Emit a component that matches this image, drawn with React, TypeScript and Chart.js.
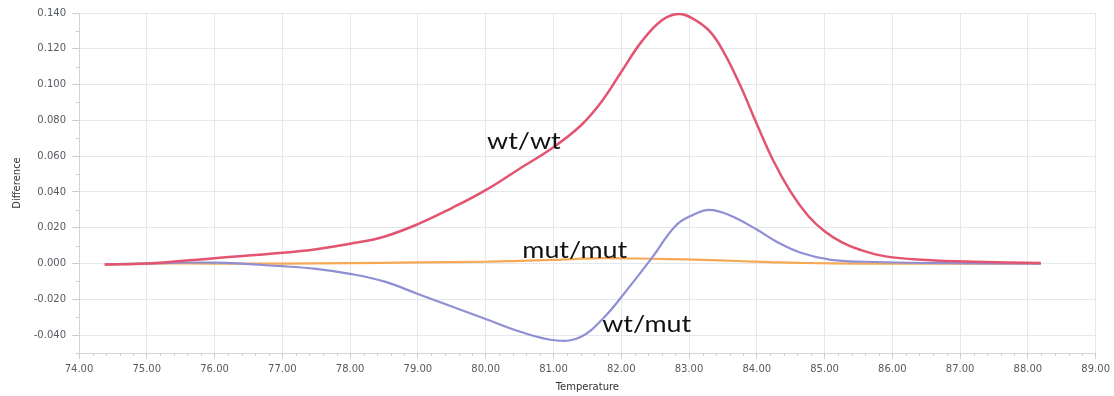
import React, { useEffect, useRef } from "react";
import { Chart, registerables } from "chart.js";

Chart.register(...registerables);

// wt/wt curve (Temperature, Difference)
const wtwtTemps = [74.38, 75.0, 76.0, 77.0, 77.5, 78.0, 78.5, 79.0, 79.5, 80.0, 80.5, 81.0, 81.4, 81.7, 82.0, 82.3, 82.6, 82.85, 83.05, 83.3, 83.5, 83.75, 84.0, 84.25, 84.5, 84.75, 85.0, 85.25, 85.5, 85.9, 86.5, 87.2, 88.19];
const wtwtValues = [-0.0005, 0.0, 0.003, 0.006, 0.008, 0.011, 0.015, 0.022, 0.031, 0.041, 0.053, 0.065, 0.077, 0.09, 0.107, 0.124, 0.136, 0.1395, 0.137, 0.13, 0.119, 0.1, 0.078, 0.057, 0.04, 0.027, 0.018, 0.012, 0.008, 0.004, 0.002, 0.001, 0.0003];

// wt/mut curve
const wtmutTemps = [74.38, 75.0, 76.0, 77.0, 77.5, 78.0, 78.5, 79.0, 79.5, 80.0, 80.5, 81.05, 81.4, 81.75, 82.1, 82.45, 82.8, 83.05, 83.3, 83.6, 84.0, 84.3, 84.65, 85.1, 85.6, 86.5, 88.19];
const wtmutValues = [-0.0005, 0.0, 0.0005, -0.0015, -0.003, -0.0058, -0.01, -0.017, -0.024, -0.031, -0.038, -0.043, -0.041, -0.03, -0.014, 0.003, 0.021, 0.027, 0.03, 0.027, 0.019, 0.012, 0.006, 0.002, 0.001, 0.0003, 0.0];

// mut/mut curve
const mutmutTemps = [74.38, 75.0, 76.0, 77.0, 78.0, 79.0, 80.0, 80.5, 81.0, 81.7, 82.2, 82.7, 83.2, 83.7, 84.2, 84.7, 85.5, 86.5, 87.5, 88.19];
const mutmutValues = [-0.0005, 0.0, 0.0, 0.0, 0.0002, 0.0006, 0.001, 0.0015, 0.002, 0.003, 0.0028, 0.0025, 0.002, 0.0014, 0.0008, 0.0003, 0.0, 0.0, 0.0, 0.0];

// Axis ticks
const yTickValues = [-0.04, -0.02, 0.0, 0.02, 0.04, 0.06, 0.08, 0.1, 0.12, 0.14];
const xMin = 74;
const xMax = 89;
const yMin = -0.05;
const yMax = 0.14;

// In-plot curve labels (anchored in data coordinates)
const curveLabelTexts = ["wt/wt", "mut/mut", "wt/mut"];
const curveLabelTemps = [80.02, 80.54, 81.72];
const curveLabelValues = [0.0638, 0.0031, -0.0385];

const toPoints = (xs: number[], ys: number[]) => xs.map((x, i) => ({ x, y: ys[i] }));

export default function App() {
  const ref = useRef<HTMLCanvasElement | null>(null);

  useEffect(() => {
    document.body.style.margin = "0";
    const canvas = ref.current;
    if (!canvas) return;

    const minorTicks = {
      id: "minorTicks",
      afterDraw(chart: any) {
        const ctx = chart.ctx;
        const xs = chart.scales.x;
        const ys = chart.scales.y;
        const area = chart.chartArea;
        ctx.save();
        ctx.strokeStyle = "#c9ced4";
        ctx.lineWidth = 1;
        ctx.beginPath();
        for (let i = 0; i <= (xMax - xMin) * 5; i++) {
          if (i % 5 === 0) continue;
          const px = Math.round(xs.getPixelForValue(xMin + i * 0.2)) + 0.5;
          ctx.moveTo(px, area.bottom);
          ctx.lineTo(px, area.bottom + 3);
        }
        for (let i = 0; i <= 19; i++) {
          const v = yMin + i * 0.01;
          if (Math.abs(Math.round(v * 100)) % 2 === 0) continue;
          const py = Math.round(ys.getPixelForValue(v)) + 0.5;
          ctx.moveTo(area.left - 3, py);
          ctx.lineTo(area.left, py);
        }
        ctx.stroke();
        ctx.restore();
      },
    };

    const curveLabels = {
      id: "curveLabels",
      afterDatasetsDraw(chart: any) {
        const ctx = chart.ctx;
        const xs = chart.scales.x;
        const ys = chart.scales.y;
        ctx.save();
        ctx.font = "24px Lato";
        ctx.fillStyle = "#111111";
        ctx.textAlign = "left";
        ctx.textBaseline = "alphabetic";
        curveLabelTexts.forEach((t, i) => {
          const px = xs.getPixelForValue(curveLabelTemps[i]);
          const py = ys.getPixelForValue(curveLabelValues[i]);
          ctx.save();
          ctx.translate(px, py);
          ctx.scale(1.12, 1);
          ctx.fillText(t, 0, 0);
          ctx.restore();
        });
        ctx.restore();
      },
    };

    const tickFont = { family: "DejaVu Sans", size: 10 };

    const chart = new Chart(canvas, {
      type: "line",
      data: {
        datasets: [
          {
            label: "wt/wt",
            data: toPoints(wtwtTemps, wtwtValues),
            borderColor: "rgb(226, 84, 112)",
            borderWidth: 2.5,
            pointRadius: 0,
            tension: 0.4,
            fill: false,
          },
          {
            label: "wt/mut",
            data: toPoints(wtmutTemps, wtmutValues),
            borderColor: "rgb(143, 143, 212)",
            borderWidth: 2.2,
            pointRadius: 0,
            tension: 0.4,
            fill: false,
          },
          {
            label: "mut/mut",
            data: toPoints(mutmutTemps, mutmutValues),
            borderColor: "rgb(246, 168, 84)",
            borderWidth: 2.2,
            pointRadius: 0,
            tension: 0.4,
            fill: false,
          },
        ],
      },
      options: {
        animation: false,
        responsive: false,
        maintainAspectRatio: false,
        events: [],
        layout: { padding: { top: 13, right: 17, bottom: 0, left: 0 } },
        plugins: {
          legend: { display: false },
          tooltip: { enabled: false },
        },
        scales: {
          x: {
            type: "linear",
            min: xMin,
            max: xMax,
            afterFit: (s: any) => {
              s.height = 43;
            },
            ticks: {
              stepSize: 1,
              autoSkip: false,
              maxRotation: 0,
              padding: 4,
              color: "#555a60",
              font: tickFont,
              callback: (v: any) => Number(v).toFixed(2),
            },
            grid: {
              color: "#e4e8ec",
              tickColor: "#c9ced4",
              tickLength: 6,
            },
            border: { color: "#cfd5db" },
            title: {
              display: true,
              text: "Temperature",
              color: "#333",
              font: { family: "DejaVu Sans", size: 10 },
              padding: { top: 0, bottom: 3 },
            },
          },
          y: {
            type: "linear",
            min: yMin,
            max: yMax,
            afterBuildTicks: (s: any) => {
              s.ticks = yTickValues.map((v) => ({ value: v }));
            },
            afterFit: (s: any) => {
              s.width = 79;
            },
            ticks: {
              padding: 6,
              color: "#555a60",
              font: tickFont,
              callback: (v: any) => Number(v).toFixed(3),
            },
            grid: {
              color: "#e4e8ec",
              tickColor: "#c9ced4",
              tickLength: 7,
            },
            border: { color: "#cfd5db" },
            title: {
              display: true,
              text: "Difference",
              color: "#333",
              font: { family: "DejaVu Sans", size: 10 },
              padding: { top: 11, bottom: 0 },
            },
          },
        },
      },
      plugins: [minorTicks, curveLabels],
    } as any);

    return () => chart.destroy();
  }, []);

  return (
    <div style={{ position: "relative", width: 1114, height: 396 }}>
      <canvas ref={ref} width={1114} height={396} style={{ display: "block" }} />
    </div>
  );
}
